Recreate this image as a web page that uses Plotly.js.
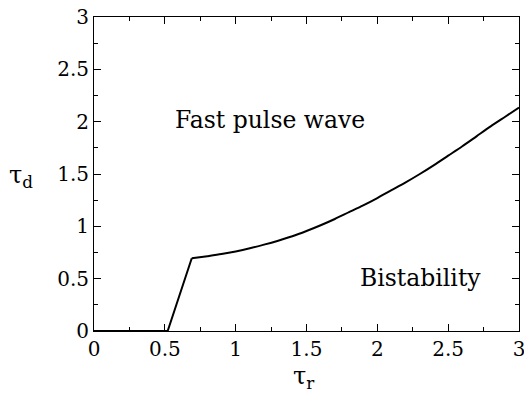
<!DOCTYPE html>
<html>
<head>
<meta charset="utf-8">
<script src="https://cdn.plot.ly/plotly-3.0.1.min.js"></script>
<style>html,body{margin:0;padding:0;background:#fff;}#chart{width:524px;height:393px;}</style>
</head>
<body>
<div id="chart"></div>
<script>
var tauR = [0, 0.52, 0.69, 0.8, 0.9, 1.0, 1.1, 1.2, 1.3, 1.4, 1.5, 1.6, 1.7, 1.8, 1.9, 2.0, 2.1, 2.2, 2.3, 2.4, 2.5, 2.6, 2.7, 2.8, 2.9, 3.0];
var tauD = [0, 0, 0.695, 0.715, 0.735, 0.76, 0.79, 0.825, 0.863, 0.905, 0.955, 1.01, 1.07, 1.135, 1.2, 1.27, 1.345, 1.42, 1.5, 1.585, 1.675, 1.765, 1.86, 1.955, 2.045, 2.135];
var xTicks = [0, 0.5, 1, 1.5, 2, 2.5, 3];
var yTicks = [0, 0.5, 1, 1.5, 2, 2.5, 3];
var regionLabels = ["Fast pulse wave", "Bistability"];
var regionX = [1.245, 2.307];
var regionY = [2.02, 0.51];

var serif = "DejaVu Serif";

var kink = 2;
var trace1 = {
  x: tauR.slice(0, kink + 1), y: tauD.slice(0, kink + 1), type: "scatter", mode: "lines",
  line: {color: "#000", width: 2}, hoverinfo: "none"
};
var trace2 = {
  x: tauR.slice(kink), y: tauD.slice(kink), type: "scatter", mode: "lines",
  line: {color: "#000", width: 2, shape: "spline", smoothing: 0.8}, hoverinfo: "none"
};

function axis(ticks) {
  return {
    range: [0, 3], tickvals: ticks, ticktext: ticks.map(String),
    ticks: "inside", ticklen: 7, tickwidth: 1, tickcolor: "#000",
    minor: {ticks: "inside", dtick: 0.25, ticklen: 4, tickwidth: 1, tickcolor: "#000", showgrid: false},
    showline: true, linecolor: "#000", linewidth: 1, mirror: "ticks",
    showgrid: false, zeroline: false,
    ticklabeloverflow: "allow",
    tickfont: {family: serif, size: 20, color: "#000"}
  };
}

var annotations = regionLabels.map(function (t, i) {
  return {text: t, x: regionX[i], y: regionY[i], xref: "x", yref: "y", showarrow: false,
          font: {family: serif, size: 23.5, color: "#000"}};
});
annotations.push({text: "τ<sub>d</sub>", xref: "paper", yref: "paper", x: -0.205, y: 0.435,
  xanchor: "left", yanchor: "bottom",
  showarrow: false, font: {family: serif, size: 24, color: "#000"}});
annotations.push({text: "τ<sub>r</sub>", xref: "paper", yref: "paper", x: 0.495, y: -0.205,
  xanchor: "center", yanchor: "bottom",
  showarrow: false, font: {family: serif, size: 24, color: "#000"}});

var layout = {
  width: 524, height: 393,
  margin: {l: 94, r: 5, t: 17, b: 62},
  paper_bgcolor: "#fff", plot_bgcolor: "#fff",
  showlegend: false,
  xaxis: axis(xTicks),
  yaxis: axis(yTicks),
  annotations: annotations
};

Plotly.newPlot("chart", [trace1, trace2], layout, {displayModeBar: false, staticPlot: true});
</script>
</body>
</html>
